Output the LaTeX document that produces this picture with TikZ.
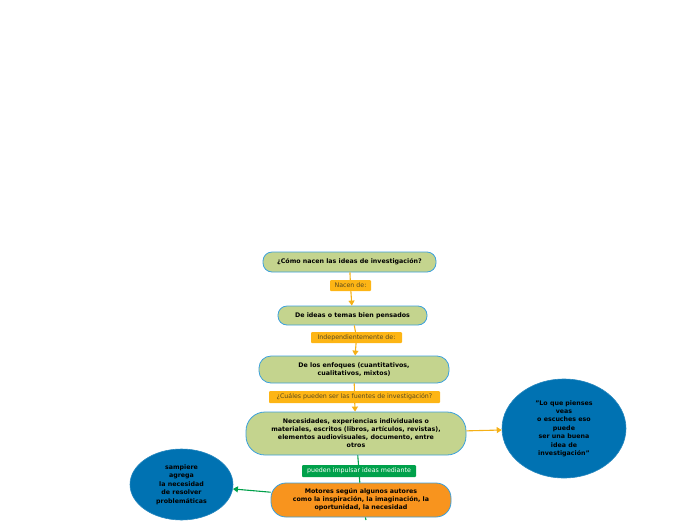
\documentclass[tikz,border=0pt]{standalone}
\usepackage{fontspec}
\setmainfont{DejaVu Sans}
\usetikzlibrary{arrows.meta,shapes.geometric}
\definecolor{topicgreen}{HTML}{C4D48E}
\definecolor{bordblue}{HTML}{3BA0DC}
\definecolor{lblorange}{HTML}{FDB515}
\definecolor{lbltext}{HTML}{5A4A1E}
\definecolor{lblgreen}{HTML}{00A14B}
\definecolor{ellblue}{HTML}{0072B2}
\definecolor{motorange}{HTML}{F8941E}
\definecolor{conorange}{HTML}{F5B016}
\definecolor{congreen}{HTML}{00A04A}
\tikzset{
  topic/.style={draw=bordblue, fill=topicgreen, line width=0.8pt, align=center,
    inner sep=0pt, font=\bfseries\fontsize{6.3}{8}\selectfont},
  bubble/.style={ellipse, draw=ellblue!85!white, line width=0.6pt, fill=ellblue, align=center, inner sep=0pt,
    font=\bfseries\fontsize{6.3}{8.4}\selectfont, text=black},
  olabel/.style={fill=lblorange, rounded corners=1pt, inner sep=0pt, text=lbltext,
    font=\fontsize{6.3}{8}\selectfont},
  glabel/.style={fill=lblgreen, rounded corners=1pt, inner sep=0pt, text=white,
    font=\fontsize{6.3}{8}\selectfont},
  oline/.style={draw=conorange, line width=1.1pt},
  gline/.style={draw=congreen, line width=1.1pt},
  tip/.style={-{Triangle[width=6pt,length=5pt]}}
}
\begin{document}
\begin{tikzpicture}[x=1pt,y=-1pt]
\useasboundingbox (0,0) rectangle (696,520);
% topics
\node[topic, rounded corners=9pt, minimum width=173pt, minimum height=20pt] (n1) at (349.5,262) {¿Cómo nacen las ideas de investigación?};
\node[topic, rounded corners=9pt, minimum width=149pt, minimum height=19pt] (n3) at (352.5,315.5) {De ideas o temas bien pensados};
\node[topic, rounded corners=12pt, minimum width=190pt, minimum height=27pt] (n5) at (354,369.5) {De los enfoques (cuantitativos,\\cualitativos, mixtos)};
\node[topic, rounded corners=19pt, minimum width=220pt, minimum height=43pt] (n7) at (356,433.5) {Necesidades, experiencias individuales o\\materiales, escritos (libros, artículos, revistas),\\elementos audiovisuales, documento, entre\\otros};
\node[topic, fill=motorange, rounded corners=15pt, minimum width=180pt, minimum height=34pt] (n10) at (361,500) {Motores según algunos autores\\como la inspiración, la imaginación, la\\oportunidad, la necesidad};
% ellipses
\node[bubble, minimum width=124pt, minimum height=99pt] (eR) at (564,428.5) {"Lo que pienses\\veas\\o escuches eso\\puede\\ser una buena\\idea de\\investigación"};
\node[bubble, minimum width=103pt, minimum height=71pt] (eL) at (181.5,484.5) {sampiere\\agrega\\la necesidad\\de resolver\\problemáticas};
% labels
\node[olabel, minimum width=41pt, minimum height=11pt] (l1) at (350.5,285.5) {Nacen de:};
\node[olabel, minimum width=91pt, minimum height=11pt] (l2) at (356.5,337.5) {Independientemente de:};
\node[olabel, minimum width=171pt, minimum height=12pt] (l3) at (354.5,397) {¿Cuáles pueden ser las fuentes de investigación?};
\node[glabel, minimum width=114pt, minimum height=12pt] (l4) at (359,471) {pueden impulsar ideas mediante};
\coordinate (bot) at (366,520);
% connectors
\draw[oline] (n1) -- (l1);
\draw[oline, tip] (l1) -- (n3);
\draw[oline] (n3) -- (l2);
\draw[oline, tip] (l2) -- (n5);
\draw[oline] (n5) -- (l3);
\draw[oline, tip] (l3) -- (n7);
\draw[oline, tip] (n7) -- (eR);
\draw[gline] (n7) -- (l4);
\draw[gline] (l4) -- (n10);
\draw[gline, tip] (n10) -- (eL);
\draw[gline] (n10) -- (bot);
\end{tikzpicture}
\end{document}
